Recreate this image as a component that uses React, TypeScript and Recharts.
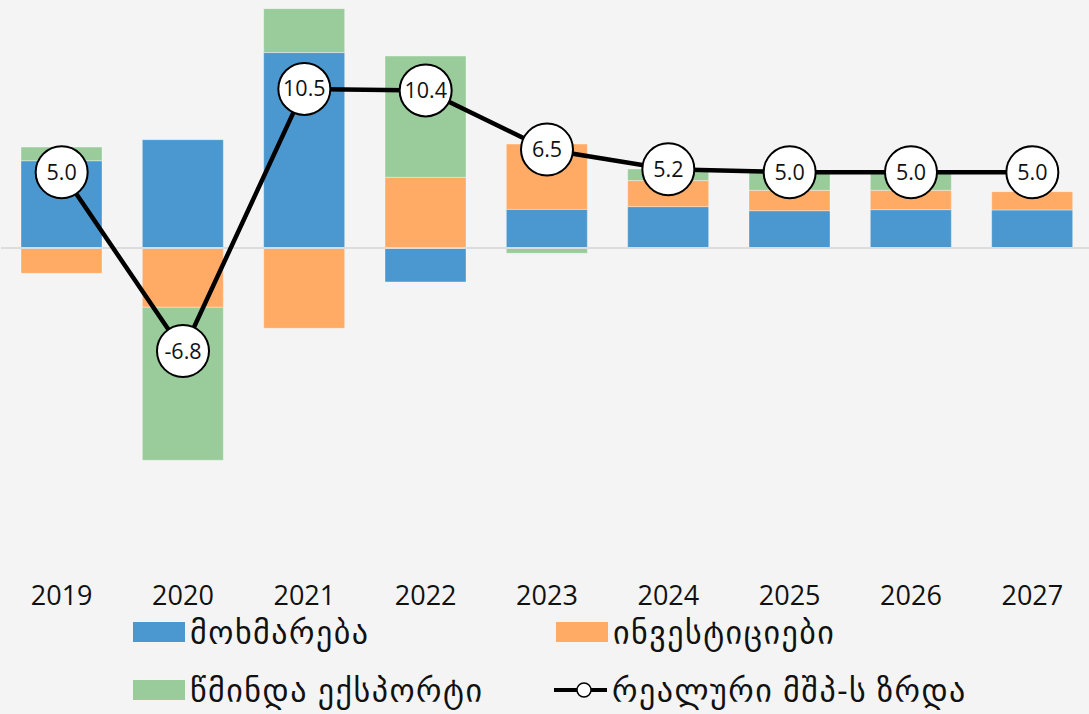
import React from 'react';
import { ComposedChart, Bar, Line, XAxis, YAxis, ReferenceLine } from 'recharts';

const years = ['2019', '2020', '2021', '2022', '2023', '2024', '2025', '2026', '2027'];
const consumption = [5.76, 7.15, 12.9, -2.24, 2.55, 2.73, 2.46, 2.53, 2.51];
const investment = [-1.67, -3.91, -5.3, 4.67, 4.31, 1.72, 1.35, 1.28, 1.21];
const netExports = [0.9, -10.1, 2.9, 8.0, -0.35, 0.77, 1.25, 1.22, 0];
const gdpGrowth = [5.0, -6.8, 10.5, 10.4, 6.5, 5.2, 5.0, 5.0, 5.0];

const seriesNames = {
  consumption: 'მოხმარება',
  investment: 'ინვესტიციები',
  netExports: 'წმინდა ექსპორტი',
  gdp: 'რეალური მშპ-ს ზრდა',
};

const COLORS = {
  consumption: '#4A98CF',
  investment: '#FFAB66',
  netExports: '#99CC9A',
  gdp: '#000000',
};

const data = years.map((y, i) => ({
  year: y,
  consumption: consumption[i],
  investment: investment[i],
  netExports: netExports[i],
  gdp: gdpGrowth[i],
}));

const FONT = "'Open Sans', 'DejaVu Sans', sans-serif";

const XTick = (props: any) => {
  const { x, y, payload } = props;
  return (
    <text x={x} y={y} dy={24} textAnchor="middle" fontSize={27} fontFamily={FONT} fill="#111">
      {payload.value}
    </text>
  );
};

const GdpDot = (props: any) => {
  const { cx, cy, value, index } = props;
  if (cx == null || cy == null) return null;
  return (
    <g key={`dot-${index}`}>
      <circle cx={cx} cy={cy} r={26} fill="#ffffff" stroke="#000" strokeWidth={2} />
      <text x={cx} y={cy} dy={7.5} textAnchor="middle" fontSize={21.5} fontFamily={FONT} fill="#111">
        {Number(value).toFixed(1)}
      </text>
    </g>
  );
};

const LegendSwatch = ({ color }: { color: string }) => (
  <div style={{ width: 52, height: 20, background: color }} />
);

const LegendLineIcon = () => (
  <svg width={53} height={20} style={{ display: 'block' }}>
    <line x1={0} y1={10} x2={53} y2={10} stroke="#000" strokeWidth={4} />
    <circle cx={30} cy={10} r={7} fill="#fff" stroke="#000" strokeWidth={1.5} />
  </svg>
);

const legendText: React.CSSProperties = {
  fontFamily: FONT,
  fontSize: 32,
  letterSpacing: 1.5,
  color: '#111',
  marginLeft: 5,
  whiteSpace: 'nowrap',
  lineHeight: '32px',
};

const LegendItem = ({ left, top, icon, label }: any) => (
  <div style={{ position: 'absolute', left, top, display: 'flex', alignItems: 'center', height: 20 }}>
    {icon}
    <span style={legendText}>{label}</span>
  </div>
);

export default function App() {
  return (
    <div
      style={{
        position: 'absolute',
        left: 0,
        top: 0,
        width: 1089,
        height: 714,
        overflow: 'hidden',
        background: '#F4F4F4',
      }}
    >
      <ComposedChart
        width={1093}
        height={620}
        data={data}
        stackOffset="sign"
        barCategoryGap={0}
        margin={{ top: 5.6, right: 0, left: 1, bottom: 0 }}
        style={{ fontFamily: FONT }}
      >
        <XAxis
          dataKey="year"
          axisLine={false}
          tickLine={false}
          tickSize={0}
          tickMargin={0}
          height={38.7}
          tick={<XTick />}
          interval={0}
        />
        <YAxis hide domain={[-22, 16]} allowDataOverflow />
        <ReferenceLine y={0} stroke="#DCDCDC" strokeWidth={2} />
        <Bar dataKey="consumption" stackId="s" fill={COLORS.consumption} barSize={81} stroke="#ffffff" strokeOpacity={0.35} strokeWidth={1} isAnimationActive={false} />
        <Bar dataKey="investment" stackId="s" fill={COLORS.investment} barSize={81} stroke="#ffffff" strokeOpacity={0.35} strokeWidth={1} isAnimationActive={false} />
        <Bar dataKey="netExports" stackId="s" fill={COLORS.netExports} barSize={81} stroke="#ffffff" strokeOpacity={0.35} strokeWidth={1} isAnimationActive={false} />
        <Line
          dataKey="gdp"
          type="linear"
          stroke={COLORS.gdp}
          strokeWidth={4.5}
          dot={<GdpDot />}
          activeDot={false}
          isAnimationActive={false}
        />
      </ComposedChart>
      <LegendItem left={133} top={622} icon={<LegendSwatch color={COLORS.consumption} />} label={seriesNames.consumption} />
      <LegendItem left={556} top={622} icon={<LegendSwatch color={COLORS.investment} />} label={seriesNames.investment} />
      <LegendItem left={133} top={680} icon={<LegendSwatch color={COLORS.netExports} />} label={seriesNames.netExports} />
      <LegendItem left={554} top={680} icon={<LegendLineIcon />} label={seriesNames.gdp} />
    </div>
  );
}
